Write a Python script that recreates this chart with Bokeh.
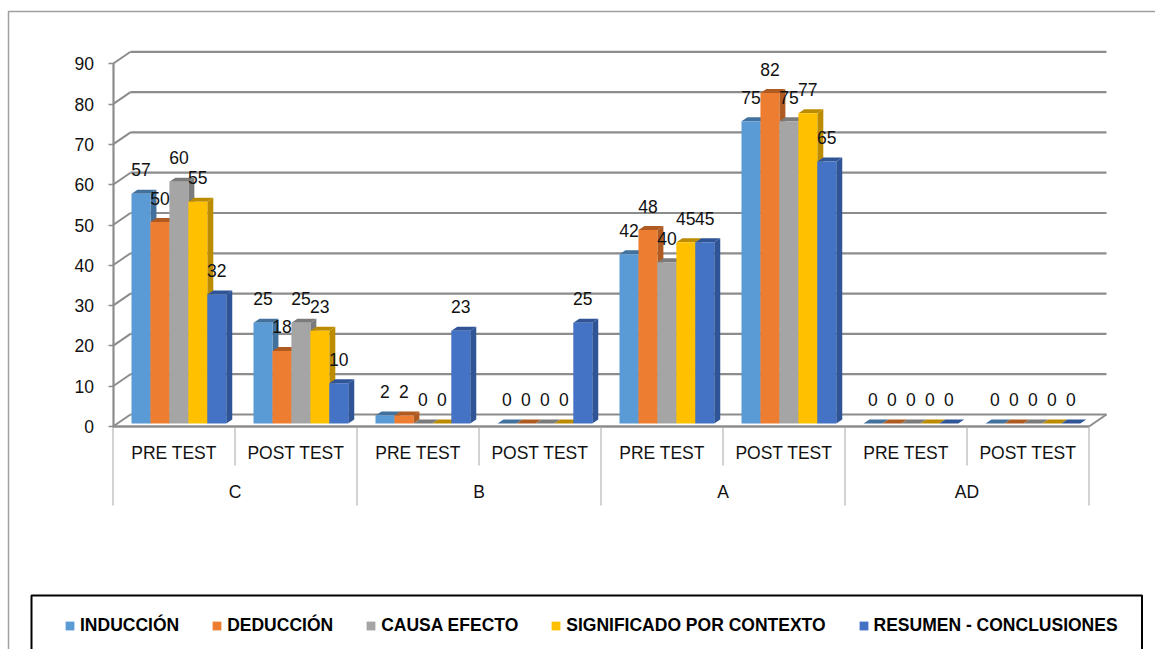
from bokeh.core.properties import value
from bokeh.embed import file_html
from bokeh.models import (BoxAnnotation, FixedTicker, Legend, LegendItem,
                          LinearAxis, Range1d)
from bokeh.plotting import figure
from bokeh.resources import INLINE

# Comprehension levels and test moments
levels = ["C", "B", "A", "AD"]
moments = ["PRE TEST", "POST TEST"]
axis_ticks = [0, 10, 20, 30, 40, 50, 60, 70, 80, 90]

# Percentages per skill, in order C pre/post, B pre/post, A pre/post, AD pre/post
induccion = [57, 25, 2, 0, 42, 75, 0, 0]
deduccion = [50, 18, 2, 0, 48, 82, 0, 0]
causa_efecto = [60, 25, 0, 0, 40, 75, 0, 0]
significado = [55, 23, 0, 0, 45, 77, 0, 0]
resumen = [32, 10, 23, 25, 45, 65, 0, 0]

series = [
    ("INDUCCIÓN", induccion, "#5b9bd5", "#41719c"),
    ("DEDUCCIÓN", deduccion, "#ed7d31", "#ae5a21"),
    ("CAUSA EFECTO", causa_efecto, "#a5a5a5", "#7b7b7b"),
    ("SIGNIFICADO POR CONTEXTO", significado, "#ffc000", "#bc8c00"),
    ("RESUMEN - CONCLUSIONES", resumen, "#4472c4", "#2f5597"),
]

W, H = 1155, 649
PX_X = 122.0   # pixels per test moment
PX_Y = 4.03    # pixels per percentage point
ORIGIN_X, ORIGIN_Y = 112.5, 426.0

ux = 1 / PX_X
uy = 1 / PX_Y

p = figure(
    width=W, height=H, output_backend="svg", toolbar_location=None,
    x_range=Range1d(-ORIGIN_X * ux, (W - ORIGIN_X) * ux),
    y_range=Range1d((ORIGIN_Y - H) * uy, ORIGIN_Y * uy),
    x_axis_location=None, y_axis_location=None,
    min_border=0, outline_line_color=None, background_fill_color="white",
)
p.grid.visible = False

WALL_COLOR = "#8c8c8c"
DIVIDER_COLOR = "#a6a6a6"

# Outer frame of the chart area, open at the right and bottom
p.add_layout(BoxAnnotation(left=8, right=W + 20, top=H - 11, bottom=-20,
                           left_units="screen", right_units="screen",
                           top_units="screen", bottom_units="screen",
                           fill_alpha=0, line_color="#a0a0a0", line_alpha=1, line_width=1.5))

# Back wall gridlines and their diagonal returns to the front axis
depth_x = 17.5 * ux
depth_y = 12.0 * uy
n_moments = len(induccion)
p.segment(x0=[depth_x] * len(axis_ticks), x1=[n_moments + depth_x] * len(axis_ticks),
          y0=[t + depth_y for t in axis_ticks], y1=[t + depth_y for t in axis_ticks],
          line_color=WALL_COLOR, line_width=2.2)
p.segment(x0=[0] * len(axis_ticks), x1=[depth_x] * len(axis_ticks),
          y0=axis_ticks, y1=[t + depth_y for t in axis_ticks],
          line_color=WALL_COLOR, line_width=2)
p.segment(x0=[n_moments], x1=[n_moments + depth_x], y0=[0], y1=[depth_y],
          line_color=WALL_COLOR, line_width=2)

# Three dimensional bars: side and top faces first, then the front face
bar_w = 18.95 * ux
bar_start = 18.5 * ux
bar_dx = 6.0 * ux
bar_dy = 4.0 * uy
bar_base = 3.0 * uy

legend_items = []
for s, (name, vals, face, shade) in enumerate(series):
    left = [m + bar_start + s * bar_w for m in range(n_moments)]
    right = [x + bar_w for x in left]
    top = [bar_base + v for v in vals]
    base = [bar_base] * n_moments
    side_xs = [[r, r + bar_dx, r + bar_dx, r] for r in right]
    side_ys = [[bar_base, bar_base + bar_dy, t + bar_dy, t] for t in top]
    top_xs = [[l, l + bar_dx, r + bar_dx, r] for l, r in zip(left, right)]
    top_ys = [[t, t + bar_dy, t + bar_dy, t] for t in top]
    p.patches(side_xs, side_ys, fill_color=shade, line_color=None)
    p.patches(top_xs, top_ys, fill_color=shade, line_color=None)
    front = p.quad(left=left, right=right, bottom=base, top=top,
                   fill_color=face, line_color=None)
    legend_items.append(LegendItem(label=name, renderers=[front]))

# Front floor edge and category dividers
p.segment(x0=[0], x1=[n_moments], y0=[0], y1=[0], line_color=WALL_COLOR, line_width=2.5)
inner = [m for m in range(1, n_moments, 2)]
outer = [m for m in range(0, n_moments + 1, 2)]
p.segment(x0=inner, x1=inner, y0=[0] * len(inner), y1=[-39 * uy] * len(inner),
          line_color=DIVIDER_COLOR, line_width=1)
p.segment(x0=outer, x1=outer, y0=[0] * len(outer), y1=[-79 * uy] * len(outer),
          line_color=DIVIDER_COLOR, line_width=1)

FAMILY = "Liberation Sans"
SIZE = "17.5px"
FONT = value(FAMILY)

# Value labels above each bar
lab_x, lab_y, lab_t = [], [], []
for s, (name, vals, face, shade) in enumerate(series):
    for m, v in enumerate(vals):
        lab_x.append(m + bar_start + (s + 0.5) * bar_w)
        lab_y.append(bar_base + v)
        lab_t.append(str(v))
p.text(x=lab_x, y=lab_y, text=lab_t, text_font=FONT, text_font_size=SIZE,
       text_color="#111111", text_align="center", text_baseline="alphabetic", y_offset=-24)

# Two tier category labels under the floor
moment_labels = moments * len(levels)
p.text(x=[m + 0.5 for m in range(n_moments)], y=[0] * n_moments, text=moment_labels,
       text_font=FONT, text_font_size=SIZE, text_color="#111111",
       text_align="center", text_baseline="middle", y_offset=26)
p.text(x=[2 * i + 1 for i in range(len(levels))], y=[0] * len(levels), text=levels,
       text_font=FONT, text_font_size=SIZE, text_color="#111111",
       text_align="center", text_baseline="middle", y_offset=65)

# Value axis sitting on the front left corner
yaxis = LinearAxis(
    fixed_location=0, ticker=FixedTicker(ticks=axis_ticks), bounds=(0, 90),
    axis_line_color=WALL_COLOR, axis_line_width=2.2,
    major_tick_line_color=WALL_COLOR, major_tick_line_width=1.5,
    major_tick_out=5, major_tick_in=0, minor_tick_line_color=None,
    major_label_standoff=14,
    major_label_text_font=FAMILY, major_label_text_font_size=SIZE,
    major_label_text_color="#111111",
)
p.add_layout(yaxis, "left")

# Legend inside a black rule box
p.add_layout(BoxAnnotation(left=31, right=1141.5, top=H - 595, bottom=-20,
                           left_units="screen", right_units="screen",
                           top_units="screen", bottom_units="screen",
                           fill_color="white", fill_alpha=1,
                           line_color="black", line_alpha=1, line_width=2))
legend = Legend(
    items=legend_items, orientation="horizontal", location=(64, 13),
    padding=0, margin=0, spacing=32, glyph_width=11, glyph_height=11,
    label_standoff=5, label_height=18,
    label_text_font=FAMILY, label_text_font_style="bold",
    label_text_font_size="17.5px", label_text_color="black",
    border_line_color=None, background_fill_alpha=0,
)
p.add_layout(legend)

open("out.html", "w").write(file_html(p, INLINE))
